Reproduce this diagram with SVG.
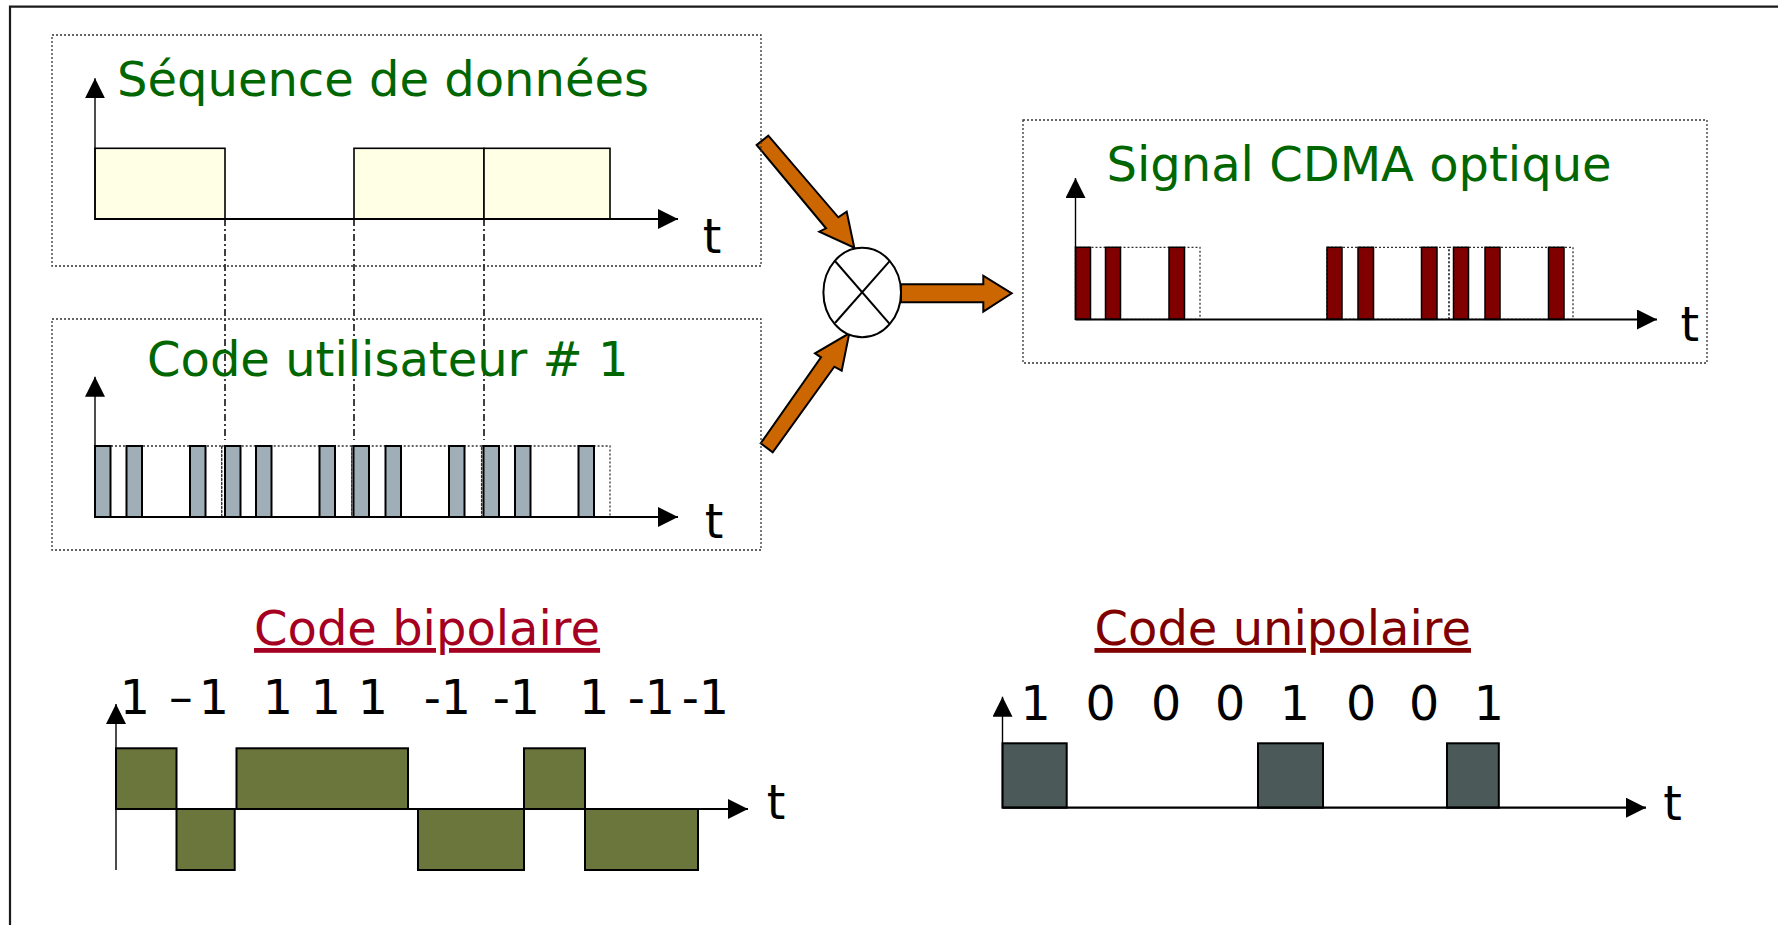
<svg xmlns="http://www.w3.org/2000/svg" width="1778" height="925" viewBox="0 0 1778 925">
<defs>
<marker id="ah" markerUnits="userSpaceOnUse" markerWidth="20" markerHeight="20" refX="20" refY="10" orient="auto" viewBox="0 0 20 20">
<path d="M0,0 L20,10 L0,20 z" fill="#000"/>
</marker>
<style>
.ttl{font-family:"DejaVu Sans",Verdana,sans-serif;font-size:48px;fill:#006600}
.lbl{font-family:"DejaVu Sans",Verdana,sans-serif;font-size:47.5px;fill:#000}
.bip{font-family:"DejaVu Sans",Verdana,sans-serif;font-size:48px;fill:#A50021;text-decoration:underline}
.uni{font-family:"DejaVu Sans",Verdana,sans-serif;font-size:48px;fill:#800000;text-decoration:underline}
.panel{fill:none;stroke:#333;stroke-width:1.3;stroke-dasharray:2 2}
.per{fill:none;stroke:#333;stroke-width:1.3;stroke-dasharray:2 2}
.vax{stroke:#000;stroke-width:1.4;fill:none}
.hax{stroke:#000;stroke-width:2.2;fill:none}
.data{fill:#FFFFE5;stroke:#000;stroke-width:1.6}
.code{fill:#A0AFB7;stroke:#000;stroke-width:2}
.cdma{fill:#800000;stroke:#000;stroke-width:1.5}
.bp{fill:#6B763D;stroke:#000;stroke-width:2}
.up{fill:#4C5959;stroke:#000;stroke-width:2}
.orng{fill:#CC6600;stroke:#000;stroke-width:2;stroke-linejoin:miter}
.dd{stroke:#000;stroke-width:1.5;stroke-dasharray:7 3 2 3;fill:none}
</style>
</defs>
<rect width="1778" height="925" fill="#fff"/>
<g id="frame">
<path d="M10,925 L10,6.7 L1778,6.7" fill="none" stroke="#1a1a1a" stroke-width="2.2"/>
</g>

<g id="connectors">
<line class="dd" x1="225" y1="219" x2="225" y2="440"/>
<line class="dd" x1="354" y1="219" x2="354" y2="440"/>
<line class="dd" x1="484" y1="219" x2="484" y2="440"/>
<polygon class="orng" points="756.7,145 826,228.3 819.3,231.7 854.3,247.7 846.7,211.7 838.3,217.3 768.3,135.7"/>
<polygon class="orng" points="760.7,443.3 821,357.3 815,353.3 849.3,333.3 841.7,370.7 834.3,366.7 772.7,452.3"/>
<polygon class="orng" points="901,284.3 983.3,284.3 983.3,275.7 1011.7,293.3 983.3,311.7 983.3,302.3 901,302.3"/>
</g>

<g id="panel-data">
<rect class="panel" x="52" y="35" width="709" height="231"/>
<rect class="data" x="95" y="148.3" width="130" height="70.7"/>
<rect class="data" x="354" y="148.3" width="130" height="70.7"/>
<rect class="data" x="484" y="148.3" width="126" height="70.7"/>
<line class="vax" x1="95" y1="220" x2="95" y2="78.3" marker-end="url(#ah)"/>
<line class="hax" x1="95" y1="219" x2="678" y2="219" marker-end="url(#ah)"/>
<text class="ttl" x="117" y="95.5">Séquence de données</text>
<text class="lbl" x="702.7" y="253">t</text>
</g>

<g id="panel-code">
<rect class="panel" x="52" y="319" width="709" height="231"/>
<rect class="per" x="95" y="446" width="126.7" height="71"/>
<rect class="per" x="221.7" y="446" width="130" height="71"/>
<rect class="per" x="351.7" y="446" width="129.9" height="71"/>
<rect class="per" x="481.6" y="446" width="128.4" height="71"/>
<rect class="code" x="95" y="446" width="15.5" height="71"/>
<rect class="code" x="126.5" y="446" width="15.5" height="71"/>
<rect class="code" x="190" y="446" width="15.5" height="71"/>
<rect class="code" x="225" y="446" width="15.5" height="71"/>
<rect class="code" x="256" y="446" width="15.5" height="71"/>
<rect class="code" x="319.5" y="446" width="15.5" height="71"/>
<rect class="code" x="353.5" y="446" width="15.5" height="71"/>
<rect class="code" x="385.5" y="446" width="15.5" height="71"/>
<rect class="code" x="449" y="446" width="15.5" height="71"/>
<rect class="code" x="483.5" y="446" width="15.5" height="71"/>
<rect class="code" x="515" y="446" width="15.5" height="71"/>
<rect class="code" x="578.5" y="446" width="15.5" height="71"/>
<line class="vax" x1="95" y1="518" x2="95" y2="376.7" marker-end="url(#ah)"/>
<line class="hax" x1="95" y1="517" x2="678" y2="517" marker-end="url(#ah)"/>
<text class="ttl" x="147" y="376">Code utilisateur # 1</text>
<text class="lbl" x="704.7" y="538">t</text>
</g>

<g id="combiner">
<ellipse cx="862.2" cy="292.5" rx="38.8" ry="44.8" fill="#fff" stroke="#000" stroke-width="2"/>
<line x1="835" y1="261" x2="889.4" y2="323.6" stroke="#000" stroke-width="2"/>
<line x1="889.4" y1="261.4" x2="835" y2="323" stroke="#000" stroke-width="2"/>
</g>

<g id="panel-cdma">
<rect class="panel" x="1023" y="120" width="684" height="243"/>
<rect class="per" x="1075.5" y="247.3" width="124.5" height="72"/>
<rect class="per" x="1327" y="247.3" width="122" height="72"/>
<rect class="per" x="1449" y="247.3" width="124" height="72"/>
<rect class="cdma" x="1075.5" y="247.3" width="15" height="72"/>
<rect class="cdma" x="1105.5" y="247.3" width="15" height="72"/>
<rect class="cdma" x="1169" y="247.3" width="15.5" height="72"/>
<rect class="cdma" x="1327" y="247.3" width="15" height="72"/>
<rect class="cdma" x="1358" y="247.3" width="15.5" height="72"/>
<rect class="cdma" x="1421.5" y="247.3" width="15.5" height="72"/>
<rect class="cdma" x="1453.5" y="247.3" width="15" height="72"/>
<rect class="cdma" x="1485" y="247.3" width="15" height="72"/>
<rect class="cdma" x="1548.5" y="247.3" width="15.5" height="72"/>
<line class="vax" x1="1075.5" y1="320" x2="1075.5" y2="178" marker-end="url(#ah)"/>
<line class="hax" x1="1075.5" y1="319.5" x2="1657" y2="319.5" marker-end="url(#ah)"/>
<text class="ttl" x="1106.5" y="181">Signal CDMA optique</text>
<text class="lbl" x="1680.4" y="340.7">t</text>
</g>

<g id="bipolar">
<text class="bip" x="254" y="645">Code bipolaire</text>
<rect class="bp" x="116" y="748.3" width="60.5" height="60.7"/>
<rect class="bp" x="176.5" y="809" width="58.2" height="61"/>
<rect class="bp" x="236.5" y="748.3" width="171.5" height="60.7"/>
<rect class="bp" x="418" y="809" width="106" height="61"/>
<rect class="bp" x="524" y="748.3" width="61" height="60.7"/>
<rect class="bp" x="585" y="809" width="113" height="61"/>
<line class="vax" x1="116" y1="870" x2="116" y2="704" marker-end="url(#ah)"/>
<line class="hax" x1="116" y1="809" x2="748" y2="809" marker-end="url(#ah)"/>
<text class="lbl" y="714"><tspan x="119.8">1</tspan><tspan x="169">–</tspan><tspan x="198.8">1</tspan><tspan x="262.8">1</tspan><tspan x="310.8">1</tspan><tspan x="357.8">1</tspan><tspan x="423.7">-1</tspan><tspan x="492.7">-1</tspan><tspan x="579">1</tspan><tspan x="627.7">-1</tspan><tspan x="681.7">-1</tspan></text>
<text class="lbl" x="766.7" y="819.3">t</text>
</g>

<g id="unipolar">
<text class="uni" x="1094.5" y="645">Code unipolaire</text>
<rect class="up" x="1002.5" y="743.3" width="64.2" height="64.4"/>
<rect class="up" x="1258" y="743.3" width="65" height="64.4"/>
<rect class="up" x="1447" y="743.3" width="51.8" height="64.4"/>
<line class="vax" x1="1002.5" y1="808" x2="1002.5" y2="696.7" marker-end="url(#ah)"/>
<line class="hax" x1="1002.5" y1="807.7" x2="1646" y2="807.7" marker-end="url(#ah)"/>
<text class="lbl" y="720"><tspan x="1020.4">1</tspan><tspan x="1085.6">0</tspan><tspan x="1150.9">0</tspan><tspan x="1214.9">0</tspan><tspan x="1279.8">1</tspan><tspan x="1345.9">0</tspan><tspan x="1408.9">0</tspan><tspan x="1473.8">1</tspan></text>
<text class="lbl" x="1663.3" y="819.5">t</text>
</g>
</svg>
